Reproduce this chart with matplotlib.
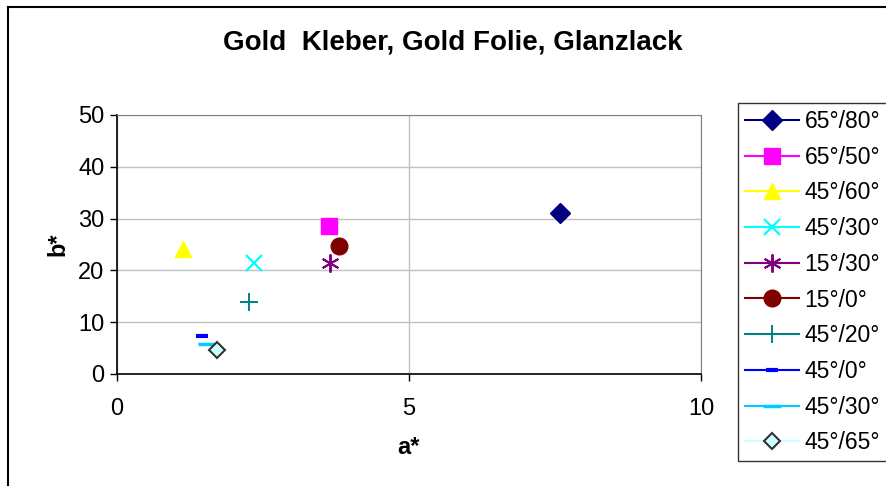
import matplotlib.pyplot as plt
from matplotlib.lines import Line2D

plt.rcParams['font.family'] = ['Liberation Sans', 'DejaVu Sans']

# measured colour points (a*, b*) per geometry
labels = ['65°/80°', '65°/50°', '45°/60°', '45°/30°', '15°/30°',
          '15°/0°', '45°/20°', '45°/0°', '45°/30°', '45°/65°']
a_vals = [7.59, 3.63, 1.13, 2.35, 3.65, 3.80, 2.26, 1.46, 1.54, 1.71]
b_vals = [31.1, 28.6, 24.2, 21.4, 21.4, 24.7, 13.9, 7.3, 5.8, 4.6]

colors = ['#000080', '#FF00FF', '#FFFF00', '#00FFFF', '#800080',
          '#800000', '#008080', '#0000FF', '#00CCFF', '#CCFFFF']
markers = ['D', 's', '^', 'x', '*', 'o', '+', '_', '_', 'D']
msizes = [10, 11, 12, 12, 13, 12, 13, 8, 13, 8]
medge = [None, None, None, 1.6, 1.4, None, 1.4, 3, 2.5, 1.5]

fig = plt.figure(figsize=(8.87, 4.86), dpi=100)
ax = fig.add_axes([0.1319, 0.2305, 0.6584, 0.5329])

for i in range(len(labels)):
    kw = dict(color=colors[i], marker=markers[i], markersize=msizes[i],
              linestyle='-', linewidth=1.5, label=labels[i])
    if medge[i] is not None:
        kw['markeredgewidth'] = medge[i]
    if i == 4:
        # Excel-style asterisk: x plus vertical bar
        kw['marker'] = (6, 2, 0)
    if i == 9:
        kw['markerfacecolor'] = '#CCFFFF'
        kw['markeredgecolor'] = '#333333'
    else:
        kw['markeredgecolor'] = colors[i]
        kw['markerfacecolor'] = colors[i]
    ax.plot([a_vals[i]], [b_vals[i]], **kw)

ax.set_xlim(0, 10)
ax.set_ylim(0, 50)
ax.set_xticks([0, 5, 10])
ax.set_yticks([0, 10, 20, 30, 40, 50])
ax.grid(True, color='#C0C0C0', linewidth=1)
ax.set_axisbelow(True)
ax.tick_params(labelsize=17, length=5, direction='out', color='black',
               width=1)
ax.tick_params(axis='x', pad=12)
ax.tick_params(axis='y', pad=4)
for s in ['top', 'right']:
    ax.spines[s].set_color('#808080')
for s in ['left', 'bottom']:
    ax.spines[s].set_color('black')
    ax.spines[s].set_linewidth(1.2)

fig.text(0.511, 0.912, 'Gold  Kleber, Gold Folie, Glanzlack', ha='center',
         va='center', fontsize=20, fontweight='bold')
fig.text(0.065, 0.4979, 'b*', rotation=90, ha='center', va='center',
         fontsize=17, fontweight='bold')
fig.text(0.461, 0.080, 'a*', ha='center', va='center', fontsize=17,
         fontweight='bold')

leg = ax.legend(loc='upper left', bbox_to_anchor=(0.832, 0.788),
                bbox_transform=fig.transFigure, fontsize=16.5, numpoints=1,
                frameon=True, fancybox=False, edgecolor='black',
                handlelength=2.35, handletextpad=0.25, labelspacing=0.555,
                borderpad=0.3, borderaxespad=0)
leg.get_frame().set_linewidth(1)

# outer chart frame (top and left edges visible)
fig.add_artist(Line2D([8 / 887, 8 / 887], [0, 1 - 7 / 486], color='black',
                      linewidth=1.5, transform=fig.transFigure))
fig.add_artist(Line2D([8 / 887, 1], [1 - 7 / 486, 1 - 7 / 486],
                      color='black', linewidth=1.5, transform=fig.transFigure))

fig.savefig('out.png', dpi=100)
